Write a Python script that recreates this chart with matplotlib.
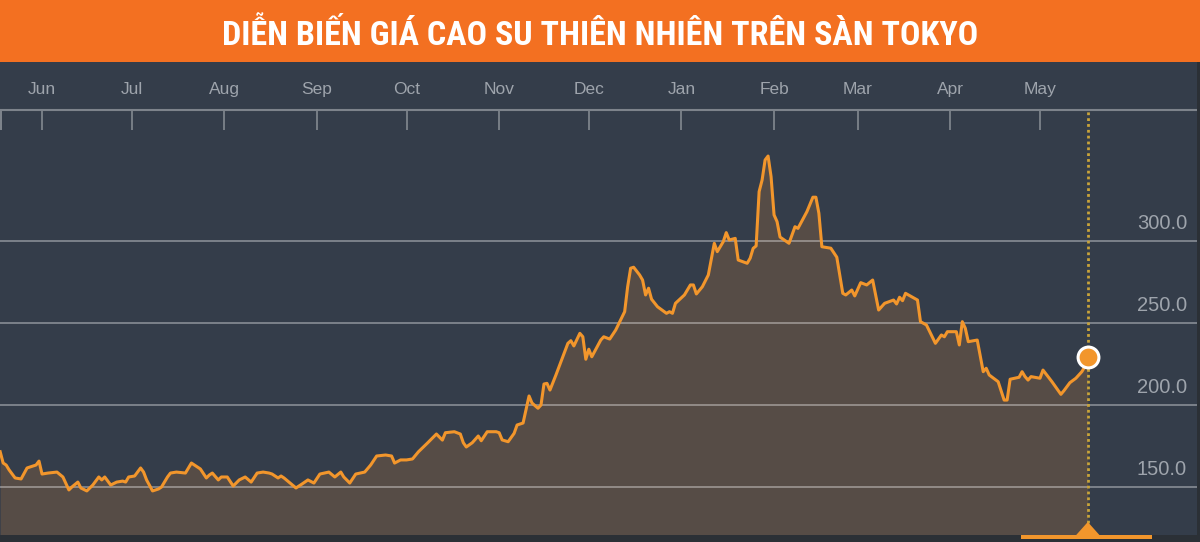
import matplotlib
matplotlib.use('Agg')
import matplotlib.pyplot as plt
import matplotlib.dates as mdates
import matplotlib.transforms as mtransforms
from matplotlib import font_manager as fm
from matplotlib.patches import Rectangle, Polygon
import pandas as pd

# ---------------- data ----------------
dates = [
    '2016-05-18', '2016-05-19', '2016-05-20', '2016-05-21', '2016-05-23', '2016-05-25', '2016-05-27', '2016-05-29',
    '2016-05-30', '2016-05-31', '2016-06-01', '2016-06-03', '2016-06-06', '2016-06-08', '2016-06-10', '2016-06-11',
    '2016-06-13', '2016-06-14', '2016-06-16', '2016-06-18', '2016-06-20', '2016-06-21', '2016-06-22', '2016-06-24',
    '2016-06-26', '2016-06-28', '2016-06-29', '2016-06-30', '2016-07-02', '2016-07-04', '2016-07-05', '2016-07-06',
    '2016-07-08', '2016-07-10', '2016-07-11', '2016-07-13', '2016-07-14', '2016-07-16', '2016-07-19', '2016-07-21',
    '2016-07-24', '2016-07-26', '2016-07-27', '2016-07-28', '2016-07-30', '2016-07-31', '2016-08-02', '2016-08-04',
    '2016-08-06', '2016-08-08', '2016-08-10', '2016-08-12', '2016-08-14', '2016-08-16', '2016-08-17', '2016-08-19',
    '2016-08-20', '2016-08-21', '2016-08-25', '2016-08-27', '2016-08-29', '2016-08-31', '2016-09-02', '2016-09-05',
    '2016-09-07', '2016-09-09', '2016-09-10', '2016-09-12', '2016-09-14', '2016-09-17', '2016-09-19', '2016-09-21',
    '2016-09-24', '2016-09-26', '2016-09-27', '2016-09-29', '2016-10-01', '2016-10-03', '2016-10-05', '2016-10-08',
    '2016-10-11', '2016-10-13', '2016-10-14', '2016-10-17', '2016-10-19', '2016-10-20', '2016-10-21', '2016-10-23',
    '2016-10-25', '2016-10-26', '2016-10-28', '2016-10-31', '2016-11-01', '2016-11-02', '2016-11-04', '2016-11-06',
    '2016-11-07', '2016-11-09', '2016-11-11', '2016-11-12', '2016-11-14', '2016-11-15', '2016-11-16', '2016-11-17',
    '2016-11-18', '2016-11-20', '2016-11-24', '2016-11-25', '2016-11-26', '2016-11-28', '2016-11-29', '2016-11-30',
    '2016-12-01', '2016-12-02', '2016-12-05', '2016-12-06', '2016-12-08', '2016-12-10', '2016-12-13', '2016-12-14',
    '2016-12-15', '2016-12-16', '2016-12-18', '2016-12-19', '2016-12-20', '2016-12-21', '2016-12-22', '2016-12-24',
    '2016-12-27', '2016-12-28', '2016-12-29', '2016-12-30', '2017-01-02', '2017-01-04', '2017-01-05', '2017-01-06',
    '2017-01-08', '2017-01-10', '2017-01-12', '2017-01-13', '2017-01-15', '2017-01-16', '2017-01-17', '2017-01-19',
    '2017-01-20', '2017-01-23', '2017-01-24', '2017-01-25', '2017-01-26', '2017-01-27', '2017-01-28', '2017-01-29',
    '2017-01-30', '2017-01-31', '2017-02-01', '2017-02-02', '2017-02-03', '2017-02-06', '2017-02-08', '2017-02-09',
    '2017-02-12', '2017-02-14', '2017-02-15', '2017-02-16', '2017-02-17', '2017-02-20', '2017-02-22', '2017-02-24',
    '2017-02-25', '2017-02-27', '2017-02-28', '2017-03-02', '2017-03-04', '2017-03-06', '2017-03-08', '2017-03-10',
    '2017-03-13', '2017-03-14', '2017-03-15', '2017-03-16', '2017-03-17', '2017-03-21', '2017-03-22', '2017-03-24',
    '2017-03-27', '2017-03-29', '2017-03-30', '2017-03-31', '2017-04-03', '2017-04-04', '2017-04-05', '2017-04-06',
    '2017-04-07', '2017-04-10', '2017-04-12', '2017-04-13', '2017-04-14', '2017-04-17', '2017-04-19', '2017-04-20',
    '2017-04-21', '2017-04-24', '2017-04-25', '2017-04-26', '2017-04-27', '2017-04-28', '2017-05-01', '2017-05-02',
    '2017-05-05', '2017-05-08', '2017-05-09', '2017-05-11', '2017-05-13', '2017-05-15', '2017-05-16', '2017-05-17',
]

prices = [
    171.2, 164.3, 163.1, 160.1, 155.2, 154.6, 161.3, 162.5,
    163.1, 165.5, 157.6, 158.2, 158.8, 155.8, 147.9, 149.7,
    152.7, 149.1, 147.3, 150.9, 155.8, 154.0, 155.8, 150.9,
    152.7, 153.3, 152.7, 155.8, 156.4, 161.3, 158.8, 154.0,
    147.3, 148.5, 149.7, 155.8, 158.2, 158.8, 158.2, 164.3,
    160.7, 155.2, 157.0, 158.2, 154.0, 155.8, 155.8, 150.3,
    154.0, 155.8, 152.7, 158.2, 158.8, 158.2, 157.6, 155.2,
    156.4, 155.2, 149.1, 151.5, 154.0, 152.1, 157.6, 158.8,
    155.8, 158.8, 155.8, 152.1, 157.6, 158.8, 163.1, 168.6,
    169.2, 168.6, 164.3, 166.2, 166.2, 166.8, 171.2, 176.5,
    182.0, 178.3, 182.8, 183.4, 182.0, 176.7, 174.1, 176.7,
    180.8, 177.9, 183.4, 183.4, 182.8, 178.4, 177.3, 182.4,
    187.5, 188.7, 205.2, 200.9, 197.7, 199.7, 212.5, 212.9,
    208.8, 218.0, 237.3, 238.9, 235.7, 243.4, 241.3, 227.6,
    233.7, 229.1, 239.3, 241.3, 239.9, 245.4, 256.6, 271.8,
    283.1, 283.7, 279.0, 275.9, 266.8, 270.9, 264.2, 259.6,
    255.6, 256.6, 255.6, 261.7, 266.8, 272.9, 272.9, 267.4,
    271.8, 279.0, 298.3, 293.2, 299.3, 304.8, 300.3, 301.3,
    288.1, 286.1, 289.2, 295.2, 296.7, 329.8, 336.9, 349.1,
    351.5, 338.9, 315.6, 311.5, 302.1, 298.3, 308.4, 307.4,
    317.6, 326.4, 326.4, 316.6, 296.2, 295.3, 289.8, 267.8,
    266.8, 269.8, 266.2, 274.3, 272.9, 275.9, 257.6, 261.7,
    263.7, 261.3, 265.4, 263.3, 267.8, 263.7, 250.5, 248.5,
    237.3, 242.4, 241.3, 244.4, 244.4, 236.3, 250.5, 246.5,
    238.3, 239.3, 220.0, 222.1, 218.0, 213.9, 202.7, 202.7,
    215.4, 216.6, 220.0, 217.0, 214.9, 217.0, 216.0, 221.0,
    213.9, 206.2, 208.4, 213.3, 216.0, 220.0, 223.1, 228.7,
]

month_ticks = ['2016-06-01', '2016-07-01', '2016-08-01', '2016-09-01', '2016-10-01', '2016-11-01',
               '2016-12-01', '2017-01-01', '2017-02-01', '2017-03-01', '2017-04-01', '2017-05-01']
month_labels = ['Jun', 'Jul', 'Aug', 'Sep', 'Oct', 'Nov', 'Dec', 'Jan', 'Feb', 'Mar', 'Apr', 'May']
y_ticks = [150, 200, 250, 300]
title = 'DIỄN BIẾN GIÁ CAO SU THIÊN NHIÊN TRÊN SÀN TOKYO'

# ---------------- style ----------------
W, H = 1200, 542
BG = '#343d4a'
ORANGE_BAR = '#f37021'
LINE = '#f2962c'
FILL = '#564c46'
AXIS_GRAY = '#7d838b'
TXT_GRAY = '#9ea4ac'
DOT = '#c9a43a'

x = mdates.date2num(pd.to_datetime(dates))
xt = mdates.date2num(pd.to_datetime(month_ticks))
PX_PER_DAY = 2.988
x_left = xt[0] - 42 / PX_PER_DAY
x_right = x_left + W / PX_PER_DAY

# axes pixel geometry: top at 110 px, bottom at 535 px ; 82 px per 50 units, 200 at 404.5 px
PX_PER_UNIT = 82 / 50
y_bottom = 200 - (535 - 404.5) / PX_PER_UNIT
y_top = 200 + (404.5 - 110) / PX_PER_UNIT

fig = plt.figure(figsize=(W / 100, H / 100), dpi=100)
fig.patch.set_facecolor(BG)

# Title bar
fig.add_artist(Rectangle((0, 1 - 62 / H), 1, 62 / H, transform=fig.transFigure,
                         facecolor=ORANGE_BAR, edgecolor='none', zorder=0))

# pick a condensed bold font for the title
names = {f.name for f in fm.fontManager.ttflist}
tkw = dict(fontweight='bold')
if 'Roboto Condensed' in names:
    tkw['family'] = ['Roboto Condensed', 'DejaVu Sans']
elif 'Liberation Sans Narrow' in names:
    tkw['family'] = ['Liberation Sans Narrow', 'DejaVu Sans']
elif any(f.name == 'DejaVu Sans' and f.stretch == 'condensed' for f in fm.fontManager.ttflist):
    tkw['family'] = ['DejaVu Sans']
    tkw['fontstretch'] = 'condensed'
else:
    tkw['family'] = ['Roboto', 'DejaVu Sans']

t = fig.text(0.5, 1 - 45 / H, title, ha='center', va='baseline', color='white', fontsize=22, **tkw)
fig.canvas.draw()
bb = t.get_window_extent()
target_w = 756
fs = 22 * target_w / bb.width
t.set_fontsize(min(fs, 24.5))

# Main axes
ax = fig.add_axes([0, (H - 535) / H, 1, 425 / H])
ax.set_facecolor(BG)
ax.set_xlim(x_left, x_right)
ax.set_ylim(y_bottom, y_top)

ax.fill_between(x, prices, y_bottom, color=FILL, lw=0, zorder=1)
for yv in y_ticks:
    ax.axhline(yv, color='white', alpha=0.38, lw=1.3, zorder=2)
ax.plot(x, prices, color=LINE, lw=2.2, zorder=3, solid_joinstyle='round')

# y labels, right-aligned inside the plot, above gridlines
for yv in y_ticks:
    ax.annotate(f'{yv:.1f}', xy=(1187 / W, yv), xycoords=('axes fraction', 'data'),
                xytext=(0, 8.5), textcoords='offset points', ha='right', va='baseline',
                color=TXT_GRAY, fontsize=14.5, family=['Liberation Sans', 'DejaVu Sans'])

# x axis on top
for s in ['left', 'right', 'bottom']:
    ax.spines[s].set_visible(False)
ax.spines['top'].set_color(AXIS_GRAY)
ax.spines['top'].set_linewidth(1.5)
ax.xaxis.tick_top()
ax.set_xticks(xt)
ax.set_xticklabels(month_labels, family=['Liberation Sans', 'DejaVu Sans'], fontsize=12.5, color=TXT_GRAY)
ax.tick_params(axis='x', direction='in', length=14.5, width=1.3, color=AXIS_GRAY, pad=9)
ax.set_yticks([])

# vertical dotted marker line at last date
last_x, last_y = x[-1], prices[-1]
apex_frac = (535 - 523) / 425
ax.axvline(last_x, ymin=apex_frac, ymax=1, color=DOT, lw=2.0, linestyle=(0, (1, 1.1)), zorder=4)
ax.plot([last_x], [last_y], 'o', ms=15, mfc=LINE, mec='white', mew=2.2, zorder=6)

# left edge mark in the tick band
fig.add_artist(Rectangle((0, 1 - 130 / H), 2 / W, 20 / H, transform=fig.transFigure,
                         facecolor=AXIS_GRAY, edgecolor='none', zorder=5))

# bottom strip, slider bar and triangle
fig.add_artist(Rectangle((0, 0), 1, (H - 535) / H, transform=fig.transFigure,
                         facecolor='#2b3036', edgecolor='none', zorder=5))
fig.add_artist(Rectangle((1197 / W, 0), 3 / W, (H - 62) / H, transform=fig.transFigure,
                         facecolor='#2b3036', edgecolor='none', zorder=5))
blend = mtransforms.blended_transform_factory(ax.transData, fig.transFigure)
half_bar_l = 67 / PX_PER_DAY
half_bar_r = 64 / PX_PER_DAY
fig.add_artist(Rectangle((last_x - half_bar_l, (H - 538.5) / H), half_bar_l + half_bar_r, 3.5 / H,
                         transform=blend, facecolor=LINE, edgecolor='none', zorder=7))
half_tri = 12.5 / PX_PER_DAY
fig.add_artist(Polygon([(last_x - half_tri, (H - 536) / H), (last_x, (H - 522) / H),
                        (last_x + half_tri, (H - 536) / H)], closed=True, transform=blend,
                       facecolor=LINE, edgecolor='none', zorder=7))

fig.savefig('out.png', dpi=100, facecolor=fig.get_facecolor())
